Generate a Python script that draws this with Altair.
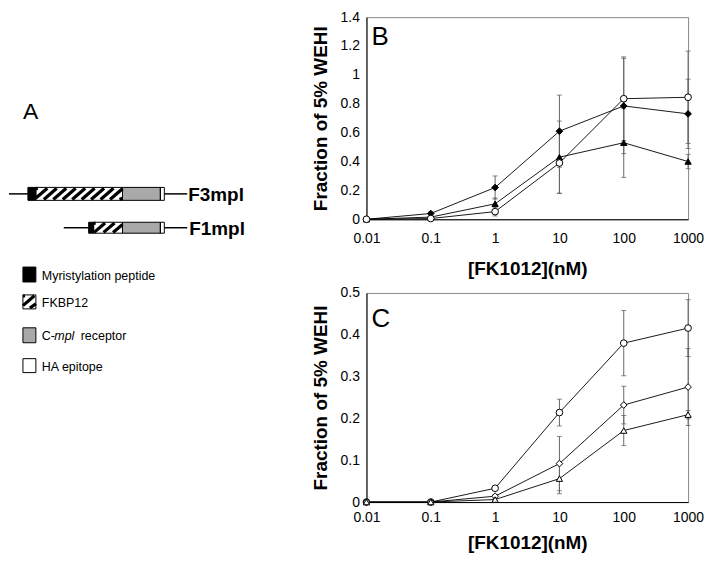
import altair as alt
import pandas as pd

FONT = "Liberation Sans"

# ---------------- Panel B / C data ----------------
conc = [0.01, 0.1, 1, 10, 100, 1000]

b_series = ["diamond_filled", "triangle_filled", "circle_open"]
b_values = {
    "diamond_filled": [0, 0.04, 0.22, 0.61, 0.785, 0.73],
    "triangle_filled": [0, 0.015, 0.107, 0.43, 0.53, 0.40],
    "circle_open": [0, 0.005, 0.053, 0.39, 0.835, 0.845],
}
b_errors = {
    "diamond_filled": [0, 0.01, 0.08, 0.25, 0.33, 0.24],
    "triangle_filled": [0, 0.01, 0.04, 0.25, 0.24, 0.05],
    "circle_open": [0, 0.005, 0.03, 0.21, 0.29, 0.32],
}
b_shapes = {"diamond_filled": ("diamond", "black", 45),
            "triangle_filled": ("triangle-up", "black", 40),
            "circle_open": ("circle", "white", 45)}

c_series = ["circle_open", "diamond_open", "triangle_open"]
c_values = {
    "circle_open": [0, 0, 0.033, 0.214, 0.38, 0.416],
    "diamond_open": [0, 0, 0.014, 0.092, 0.232, 0.275],
    "triangle_open": [0, 0, 0.006, 0.056, 0.171, 0.209],
}
c_errors = {
    "circle_open": [0, 0, 0.004, 0.032, 0.078, 0.068],
    "diamond_open": [0, 0, 0.004, 0.065, 0.045, 0.092],
    "triangle_open": [0, 0, 0.003, 0.036, 0.036, 0.01],
}
c_shapes = {"circle_open": ("circle", "white", 45),
            "diamond_open": ("diamond", "white", 45),
            "triangle_open": ("triangle-up", "white", 40)}

# ---------------- Panel A data (schematic) ----------------
seg_row = ["F3mpl"] * 4 + ["F1mpl"] * 4
seg_kind = ["myr", "fkbp", "mpl", "ha"] * 2
seg_start = [27, 35, 122, 160, 88, 93, 122, 160]
seg_end = [35, 122, 160, 164, 93, 122, 160, 164]
row_names = ["F3mpl", "F1mpl"]
row_top = [187, 222]
row_bottom = [200, 233]
row_line_left = [8, 63]
row_line_right = [187, 187]
row_label_x = [188, 189]

legend_kind = ["myr", "fkbp", "mpl", "ha"]
legend_top = [267, 295, 328, 359]
legend_bottom = [282, 309, 343, 373]
legend_box_left = 22
legend_box_right = 35
kind_fill = {"myr": "black", "fkbp": "white", "mpl": "#a9a9a9", "ha": "white"}


def build_panel(series, values, errors, shapes, ymax, ystep, width, height, letter, letter_y,
                xlab_pad, xtitle_pad):
    rows = []
    for s in series:
        for c, v, e in zip(conc, values[s], errors[s]):
            rows.append({"series": s, "conc": c, "val": v, "lo": v - e, "hi": v + e, "err": e})
    df = pd.DataFrame(rows)
    xs = alt.Scale(type="log", domain=[0.01, 1000], nice=False)
    ys = alt.Scale(domain=[0, ymax], nice=False, zero=True)
    xax = alt.Axis(values=conc, format="~g", title="[FK1012](nM)", labelFlush=False,
                   ticks=False, grid=False, labelPadding=xlab_pad, titlePadding=xtitle_pad,
                   labelFontSize=14, titleFontSize=19, titleFontWeight="bold",
                   domainColor="black", labelColor="black", titleColor="black")
    ticks_y = [round(i * ystep, 2) for i in range(int(round(ymax / ystep)) + 1)]
    yax = alt.Axis(values=ticks_y, format="~g", title="Fraction of 5% WEHI",
                   ticks=False, grid=False, labelPadding=7, titlePadding=10,
                   labelFontSize=14, titleFontSize=19, titleFontWeight="bold",
                   domainColor="black", labelColor="black", titleColor="black")
    X = alt.X("conc:Q", scale=xs, axis=xax)
    Y = alt.Y("val:Q", scale=ys, axis=yax)
    base = alt.Chart(df)
    errdf = df[df["err"] > 0]
    ebase = alt.Chart(errdf)
    rule = ebase.mark_rule(color="#666666", strokeWidth=1).encode(
        x=X, y=alt.Y("lo:Q", scale=ys, axis=yax), y2="hi:Q")
    cap_lo = ebase.mark_tick(orient="horizontal", size=5, thickness=1, color="#555555").encode(
        x=X, y=alt.Y("lo:Q", scale=ys, axis=yax))
    cap_hi = ebase.mark_tick(orient="horizontal", size=5, thickness=1, color="#555555").encode(
        x=X, y=alt.Y("hi:Q", scale=ys, axis=yax))
    line = base.mark_line(color="black", strokeWidth=0.9).encode(x=X, y=Y, detail="series:N")
    layers = [rule, cap_lo, cap_hi, line]
    for s in series:
        shp, fill, size = shapes[s]
        layers.append(
            alt.Chart(df[df["series"] == s]).mark_point(
                shape=shp, filled=True, fill=fill, stroke="black", strokeWidth=1,
                size=size, opacity=1).encode(x=X, y=Y))
    lab = alt.Chart(pd.DataFrame({"t": [letter]})).mark_text(
        align="left", baseline="alphabetic", fontSize=26, color="black").encode(
        text="t:N", x=alt.value(5), y=alt.value(letter_y))
    layers.append(lab)
    return alt.layer(*layers).properties(
        width=width, height=height, view=alt.ViewBackground(stroke="#888888", strokeWidth=1))


chart_b = build_panel(b_series, b_values, b_errors, b_shapes, 1.4, 0.2, 323, 203, "B", 28, 12, 14)
chart_c = build_panel(c_series, c_values, c_errors, c_shapes, 0.5, 0.1, 323, 210, "C", 34, 9, 9)

# ---------------- Panel A ----------------
AX0, AY0 = 8, 16
AW, AH = 283, 370
axs = alt.Scale(domain=[AX0, AX0 + AW], nice=False, zero=False)
ays = alt.Scale(domain=[AY0 + AH, AY0], nice=False, zero=False)

seg_rows = []
for r, k, a, b in zip(seg_row, seg_kind, seg_start, seg_end):
    i = row_names.index(r)
    seg_rows.append({"kind": k, "x0": a, "x1": b, "y0": row_top[i], "y1": row_bottom[i]})
for k, t, bt in zip(legend_kind, legend_top, legend_bottom):
    seg_rows.append({"kind": k, "x0": legend_box_left, "x1": legend_box_right, "y0": t, "y1": bt})
seg_df = pd.DataFrame(seg_rows)
seg_df["fill"] = seg_df["kind"].map(kind_fill)

fills = alt.Chart(seg_df).mark_rect(stroke=None).encode(
    x=alt.X("x0:Q", scale=axs, axis=None), x2="x1:Q",
    y=alt.Y("y0:Q", scale=ays, axis=None), y2="y1:Q",
    fill=alt.Fill("fill:N", scale=None))

# hatch pattern for FKBP12 boxes
stripe_rows = []
step = 9.5
for _, r in seg_df[seg_df["kind"] == "fkbp"].iterrows():
    h = r["y1"] - r["y0"]
    xs0 = r["x0"] - h + 2
    while xs0 < r["x1"]:
        ax, ay = xs0, r["y1"]
        bx, by = xs0 + h, r["y0"]
        if ax < r["x0"]:
            ay = r["y1"] - (r["x0"] - ax)
            ax = r["x0"]
        if bx > r["x1"]:
            by = r["y0"] + (bx - r["x1"])
            bx = r["x1"]
        if bx > ax:
            stripe_rows.append({"ax": ax, "ay": ay - 0.8, "bx": bx, "by": by + 0.8})
        xs0 += step
stripe_df = pd.DataFrame(stripe_rows)
stripes = alt.Chart(stripe_df).mark_rule(color="black", strokeWidth=3.2).encode(
    x=alt.X("ax:Q", scale=axs, axis=None), x2="bx:Q",
    y=alt.Y("ay:Q", scale=ays, axis=None), y2="by:Q")

outlines = alt.Chart(seg_df).mark_rect(fill=None, stroke="black", strokeWidth=1).encode(
    x=alt.X("x0:Q", scale=axs, axis=None), x2="x1:Q",
    y=alt.Y("y0:Q", scale=ays, axis=None), y2="y1:Q")

line_rows = []
for i, n in enumerate(row_names):
    yc = (row_top[i] + row_bottom[i]) / 2
    first = min(a for r, a in zip(seg_row, seg_start) if r == n)
    last = max(b for r, b in zip(seg_row, seg_end) if r == n)
    line_rows.append({"a": row_line_left[i], "b": first, "y": yc})
    line_rows.append({"a": last, "b": row_line_right[i], "y": yc})
tails = alt.Chart(pd.DataFrame(line_rows)).mark_rule(color="black", strokeWidth=1.5).encode(
    x=alt.X("a:Q", scale=axs, axis=None), x2="b:Q",
    y=alt.Y("y:Q", scale=ays, axis=None))

name_df = pd.DataFrame({"name": row_names, "x": row_label_x,
                        "y": [(t + b) / 2 + 1 for t, b in zip(row_top, row_bottom)]})
names = alt.Chart(name_df).mark_text(align="left", baseline="middle", fontSize=19,
                                     fontWeight="bold", color="black").encode(
    x=alt.X("x:Q", scale=axs, axis=None), y=alt.Y("y:Q", scale=ays, axis=None), text="name:N")

legend_text = ["Myristylation peptide", "FKBP12", "C-", "mpl", "receptor", "HA epitope"]
legend_text_x = [41, 41, 41, 53.5, 80, 41]
legend_text_item = [0, 1, 2, 2, 2, 3]
legend_text_style = ["normal", "normal", "normal", "italic", "normal", "normal"]
lt_df = pd.DataFrame({
    "t": legend_text, "x": legend_text_x,
    "y": [(legend_top[i] + legend_bottom[i]) / 2 + 1 for i in legend_text_item],
    "style": legend_text_style})
lt_normal = alt.Chart(lt_df[lt_df["style"] == "normal"]).mark_text(
    align="left", baseline="middle", fontSize=12.5, color="black").encode(
    x=alt.X("x:Q", scale=axs, axis=None), y=alt.Y("y:Q", scale=ays, axis=None), text="t:N")
lt_italic = alt.Chart(lt_df[lt_df["style"] == "italic"]).mark_text(
    align="left", baseline="middle", fontSize=12.5, fontStyle="italic", color="black").encode(
    x=alt.X("x:Q", scale=axs, axis=None), y=alt.Y("y:Q", scale=ays, axis=None), text="t:N")

a_df = pd.DataFrame({"t": ["A"], "x": [22], "y": [118]})
a_lab = alt.Chart(a_df).mark_text(align="left", baseline="alphabetic", fontSize=23,
                                  color="black").encode(
    x=alt.X("x:Q", scale=axs, axis=None), y=alt.Y("y:Q", scale=ays, axis=None), text="t:N")

chart_a = alt.layer(fills, stripes, outlines, tails, names, lt_normal, lt_italic, a_lab).properties(
    width=AW, height=AH, view=alt.ViewBackground(stroke=None))

right = alt.vconcat(chart_b, chart_c, spacing=6).resolve_scale(x="independent", y="independent")
chart = alt.hconcat(chart_a, right, spacing=20).properties(
    padding={"left": 0, "top": 0, "right": 0, "bottom": 0},
    background="white",
).configure(font=FONT).configure_axis(labelFont=FONT, titleFont=FONT)

chart.save("out.html", embed_options={"renderer": "svg", "actions": False})
